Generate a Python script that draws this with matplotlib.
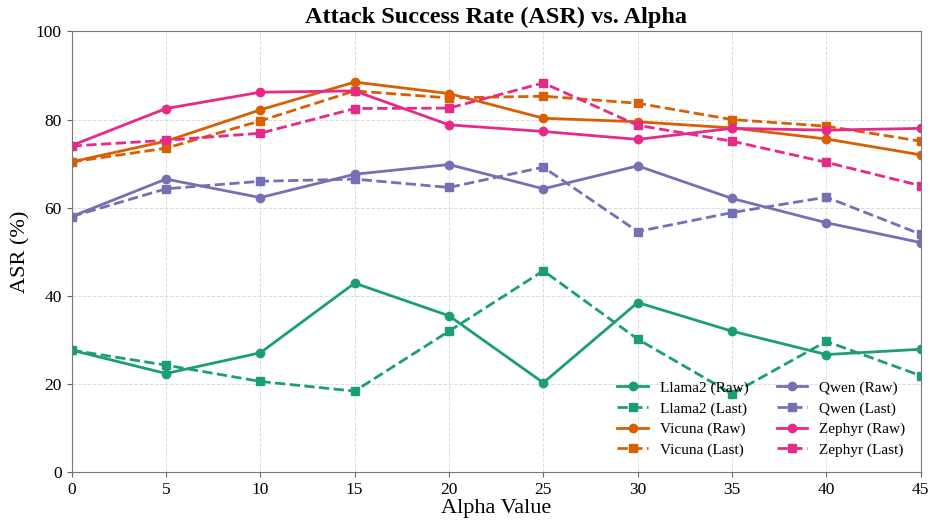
import matplotlib
matplotlib.use("Agg")
import matplotlib.pyplot as plt

plt.rcParams['font.family'] = ['Liberation Serif', 'DejaVu Serif']

alphas = [0, 5, 10, 15, 20, 25, 30, 35, 40, 45]

llama2_raw = [27.7, 22.4, 27.1, 42.9, 35.5, 20.3, 38.5, 32.0, 26.7, 27.9]
llama2_last = [27.7, 24.3, 20.6, 18.4, 32.0, 45.7, 30.2, 17.8, 29.7, 21.9]
vicuna_raw = [70.4, 75.1, 82.2, 88.5, 85.9, 80.3, 79.5, 78.1, 75.6, 72.0]
vicuna_last = [70.4, 73.5, 79.7, 86.5, 84.9, 85.3, 83.7, 80.0, 78.5, 75.1]
qwen_raw = [58.0, 66.5, 62.3, 67.6, 69.8, 64.3, 69.5, 62.1, 56.6, 52.1]
qwen_last = [58.0, 64.3, 66.0, 66.5, 64.6, 69.2, 54.6, 58.9, 62.4, 54.0]
zephyr_raw = [74.1, 82.5, 86.2, 86.5, 78.8, 77.3, 75.5, 78.0, 77.6, 78.0]
zephyr_last = [74.0, 75.3, 76.9, 82.5, 82.6, 88.3, 78.7, 75.1, 70.3, 65.0]

models = ["Llama2", "Vicuna", "Qwen", "Zephyr"]
colors = ["#1b9e77", "#d95f02", "#7570b3", "#e7298a"]
raw = [llama2_raw, vicuna_raw, qwen_raw, zephyr_raw]
last = [llama2_last, vicuna_last, qwen_last, zephyr_last]

fig, ax = plt.subplots(figsize=(9.3, 5.23), dpi=100)
fig.subplots_adjust(left=0.077, right=0.99, top=0.94, bottom=0.097)

for name, c, r, l in zip(models, colors, raw, last):
    ax.plot(alphas, r, '-', marker='o', color=c, lw=2, ms=6, label=f"{name} (Raw)")
    ax.plot(alphas, l, '--', marker='s', color=c, lw=2, ms=6, label=f"{name} (Last)")

ax.set_xlim(0, 45)
ax.set_ylim(0, 100)
ax.set_xticks(alphas)
ax.set_yticks(range(0, 101, 20))
ax.tick_params(labelsize=12.5, color='#666666')
ax.grid(True, linestyle='--', color='#d5d5d5', alpha=0.8, lw=0.7)
for s in ax.spines.values():
    s.set_color('#777777')

ax.set_title("Attack Success Rate (ASR) vs. Alpha", fontsize=17.5, fontweight='bold')
ax.set_xlabel("Alpha Value", fontsize=16, labelpad=1)
ax.set_ylabel("ASR (%)", fontsize=16)

ax.legend(ncol=2, loc='lower right', frameon=False, fontsize=11,
          labelspacing=0.45, columnspacing=1.8, borderaxespad=0.6)

fig.savefig("out.png")
